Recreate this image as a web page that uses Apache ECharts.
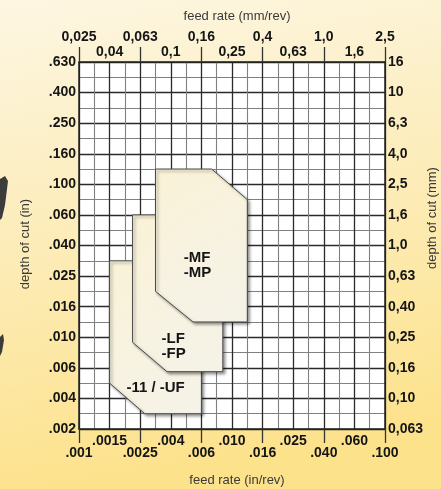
<!DOCTYPE html>
<html style="height: 100%">
<head>
    <meta charset="utf-8">
    <script src="https://cdn.jsdelivr.net/npm/echarts@6/dist/echarts.min.js"></script>
</head>
<body style="height: 100%; margin: 0">
    <div id="main" style="width:441px;height:489px;"></div>
    <script type="text/javascript">
    // tick labels, one per two grid steps
    var feedIn = ['.001', '.0015', '.0025', '.004', '.006', '.010', '.016', '.025', '.040', '.060', '.100'];
    var feedMm = ['0,025', '0,04', '0,063', '0,1', '0,16', '0,25', '0,4', '0,63', '1,0', '1,6', '2,5'];
    var depthIn = ['.002', '.004', '.006', '.010', '.016', '.025', '.040', '.060', '.100', '.160', '.250', '.400', '.630'];
    var depthMm = ['0,063', '0,10', '0,16', '0,25', '0,40', '0,63', '1,0', '1,6', '2,5', '4,0', '6,3', '10', '16'];

    // zones in grid steps [feed step, depth step], drawn back to front
    var zoneUF = [[2, 11], [8, 11], [8, 1], [4.3, 1], [2, 3]];
    var zoneLF = [[3.5, 14], [9.4, 14], [9.4, 3.75], [5.75, 3.75], [3.5, 5.67]];
    var zoneMF = [[5, 17], [8.67, 17], [11, 15], [11, 7], [7.45, 7], [5, 9]];
    var zones = [zoneUF, zoneLF, zoneMF];
    var zoneNames = ['-11 / -UF', '-LF\n-FP', '-MF\n-MP'];
    var zoneLabelAt = [[3.1, 2.72], [5.4, 5.43], [6.85, 10.7]];

    var font = 'Liberation Sans, Arial, sans-serif';
    var lbl = { color: '#151515', fontWeight: 'bold', fontSize: 14, fontFamily: font };

    var myChart = echarts.init(document.getElementById('main'));

    function axisBase(extra) {
        var a = {
            type: 'value', min: 0, max: 20,
            axisLine: { show: false, onZero: false, lineStyle: { color: '#222', width: 1.5 } },
            axisTick: { show: false },
            splitLine: { show: false },
            axisLabel: { show: false }
        };
        return Object.assign(a, extra);
    }

    var option = {
        backgroundColor: new echarts.graphic.LinearGradient(0, 0, 0.2, 1, [
            { offset: 0, color: '#fdf6e2' },
            { offset: 0.5, color: '#fcecb8' },
            { offset: 1, color: '#fde28c' }
        ]),
        grid: { left: 79, right: 56, top: 62, bottom: 60, show: true, backgroundColor: '#fff', borderWidth: 0 },
        xAxis: [
            // grid lines
            axisBase({
                position: 'bottom', interval: 2,
                axisLine: { show: true, onZero: false, lineStyle: { color: '#222', width: 1.5 } },
                splitLine: { show: true, lineStyle: { color: '#2a2a2a', width: 1.3 } },
                minorTick: { show: false, splitNumber: 2 },
                minorSplitLine: { show: true, lineStyle: { color: '#808080', width: 1.1 } }
            }),
            // bottom, lower row + major ticks
            axisBase({
                position: 'bottom', interval: 4,
                axisTick: { show: true, length: 14, lineStyle: { color: '#333', width: 1.3 } },
                axisLabel: Object.assign({ show: true, margin: 17, formatter: function (v) { return feedIn[v / 2]; } }, lbl)
            }),
            // bottom, upper row
            axisBase({
                position: 'bottom', interval: 2,
                axisLabel: Object.assign({ show: true, margin: 5, formatter: function (v) { return v % 4 === 2 ? feedIn[v / 2] : ''; } }, lbl)
            }),
            // top, upper row + major ticks
            axisBase({
                position: 'top', interval: 4,
                axisLine: { show: true, onZero: false, lineStyle: { color: '#222', width: 1.5 } },
                axisTick: { show: true, length: 15, lineStyle: { color: '#333', width: 1.3 } },
                axisLabel: Object.assign({ show: true, margin: 18, formatter: function (v) { return feedMm[v / 2]; } }, lbl)
            }),
            // top, lower row
            axisBase({
                position: 'top', interval: 2,
                axisLabel: Object.assign({ show: true, margin: 3, formatter: function (v) { return v % 4 === 2 ? feedMm[v / 2] : ''; } }, lbl)
            })
        ],
        yAxis: [
            {
                type: 'value', position: 'left', min: 0, max: 24, interval: 2,
                axisLine: { show: true, onZero: false, lineStyle: { color: '#222', width: 1.5 } },
                axisTick: { show: false },
                splitLine: { show: true, lineStyle: { color: '#2a2a2a', width: 1.3 } },
                minorTick: { show: false, splitNumber: 2 },
                minorSplitLine: { show: true, lineStyle: { color: '#808080', width: 1.1 } },
                axisLabel: Object.assign({ margin: 3, formatter: function (v) { return depthIn[v / 2]; } }, lbl)
            },
            {
                type: 'value', position: 'right', min: 0, max: 24, interval: 2,
                axisLine: { show: true, onZero: false, lineStyle: { color: '#222', width: 1.5 } },
                axisTick: { show: false },
                splitLine: { show: false },
                axisLabel: Object.assign({ margin: 3, formatter: function (v) { return depthMm[v / 2]; } }, lbl)
            }
        ],
        graphic: [
            { type: 'text', x: 237, y: 16, style: { text: 'feed rate (mm/rev)', font: '13px ' + font, fill: '#3a3a3a', textAlign: 'center', textVerticalAlign: 'middle' } },
            { type: 'text', x: 237, y: 480, style: { text: 'feed rate (in/rev)', font: '13px ' + font, fill: '#3a3a3a', textAlign: 'center', textVerticalAlign: 'middle' } },
            { type: 'text', x: 25, y: 244, rotation: Math.PI / 2, style: { text: 'depth of cut (in)', font: '13px ' + font, fill: '#3a3a3a', textAlign: 'center', textVerticalAlign: 'middle' } },
            { type: 'text', x: 432, y: 218, rotation: Math.PI / 2, style: { text: 'depth of cut (mm)', font: '13px ' + font, fill: '#3a3a3a', textAlign: 'center', textVerticalAlign: 'middle' } },
            // edge of the insert photo
            { type: 'polygon', shape: { points: [[0, 179], [5, 176], [8, 181], [5, 205], [2, 218], [0, 220]] }, style: { fill: '#3c3c3c' } },
            { type: 'polygon', shape: { points: [[0, 337], [3, 334], [4, 340], [2, 352], [0, 356]] }, style: { fill: '#3c3c3c' } }
        ],
        series: [
            {
                type: 'custom',
                coordinateSystem: 'cartesian2d',
                xAxisIndex: 0,
                yAxisIndex: 0,
                data: [0, 1, 2],
                renderItem: function (params, api) {
                    var i = params.dataIndex;
                    var pts = zones[i].map(function (p) { return api.coord(p); });
                    var at = api.coord(zoneLabelAt[i]);
                    return {
                        type: 'group',
                        children: [
                            {
                                type: 'polygon',
                                z2: i * 10,
                                shape: { points: pts },
                                style: {
                                    fill: new echarts.graphic.LinearGradient(0, 0, 1, 1, [
                                        { offset: 0, color: '#faf2d8' },
                                        { offset: 1, color: '#f5f2e8' }
                                    ]),
                                    stroke: '#4a4a4a',
                                    lineWidth: 1,
                                    shadowBlur: 3,
                                    shadowOffsetX: 2,
                                    shadowOffsetY: 2,
                                    shadowColor: 'rgba(0,0,0,0.4)'
                                }
                            },
                            {
                                type: 'text',
                                z2: i * 10 + 5,
                                x: at[0],
                                y: at[1],
                                style: {
                                    text: zoneNames[i],
                                    font: 'bold 15px ' + font,
                                    fill: '#151515',
                                    lineHeight: 15,
                                    textAlign: 'left',
                                    textVerticalAlign: 'middle'
                                }
                            }
                        ]
                    };
                }
            }
        ]
    };

    myChart.setOption(option);
    </script>
</body>
</html>
